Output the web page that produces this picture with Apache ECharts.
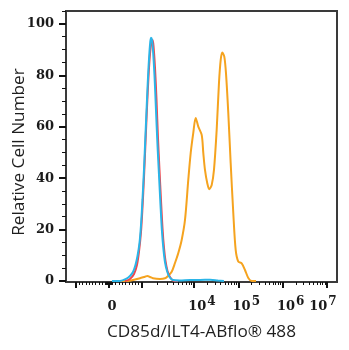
<!DOCTYPE html>
<html>
<head>
<meta charset="utf-8">
<script src="https://cdn.jsdelivr.net/npm/echarts@6/dist/echarts.min.js"></script>
<style>
  html, body { margin: 0; padding: 0; background: #fff; }
  #chart { width: 349px; height: 350px; }
</style>
</head>
<body>
<div id="chart"></div>
<script>
// Flow cytometry overlay histograms on a biexponential display scale.
// x values are display positions: 10^n sits at n for n >= 4.

// unstained control (cyan)
const unstained = [
  [2.149, 0], [2.330, 0], [2.465, 0.78], [2.555, 1.95], [2.623, 3.50],
  [2.679, 6.23], [2.725, 9.73], [2.770, 14.79], [2.804, 21.79], [2.837, 31.52],
  [2.871, 43.19], [2.905, 56.81], [2.939, 70.43], [2.973, 82.88], [3.007, 91.83],
  [3.029, 94.55], [3.052, 93.77], [3.074, 89.88], [3.108, 80.16], [3.142, 66.54],
  [3.176, 52.92], [3.210, 41.25], [3.244, 29.57], [3.278, 19.07], [3.312, 12.06],
  [3.345, 7.39], [3.391, 3.89], [3.447, 1.56], [3.526, 0.39], [3.684, 0.19],
  [3.910, 0.39], [4.135, 0.39], [4.361, 0.47], [4.542, 0.19], [4.677, 0]
];

// isotype control (red)
const isotype = [
  [2.442, 0], [2.555, 0.78], [2.646, 2.72], [2.713, 6.23], [2.758, 11.28],
  [2.804, 19.07], [2.837, 28.40], [2.871, 40.08], [2.905, 53.70], [2.939, 67.33],
  [2.973, 79.38], [3.007, 88.33], [3.041, 93.00], [3.063, 93.77], [3.086, 91.44],
  [3.120, 82.88], [3.154, 70.43], [3.187, 55.65], [3.221, 43.19], [3.255, 31.52],
  [3.289, 20.62], [3.323, 12.84], [3.357, 7.78], [3.402, 3.89], [3.458, 1.56],
  [3.549, 0], [3.639, 0]
];

// CD85d/ILT4 stained sample (orange)
const stained = [
  [2.330, 0], [2.510, 0], [2.668, 0.58], [2.781, 1.05], [2.894, 1.67],
  [2.950, 1.95], [3.007, 1.56], [3.074, 1.05], [3.233, 0.78], [3.345, 1.05],
  [3.413, 1.95], [3.497, 3.62], [3.571, 7.00], [3.646, 10.89], [3.722, 15.95],
  [3.797, 23.74], [3.871, 39.30], [3.926, 49.81], [3.984, 57.59], [4.038, 63.42],
  [4.097, 60.04], [4.174, 56.81], [4.210, 49.81], [4.248, 43.19], [4.300, 38.02],
  [4.345, 35.68], [4.400, 37.35], [4.451, 43.19], [4.512, 58.75], [4.564, 77.04],
  [4.603, 85.99], [4.639, 88.83], [4.684, 87.28], [4.722, 80.82], [4.774, 65.39],
  [4.828, 45.91], [4.887, 26.46], [4.941, 12.06], [5.000, 7.51], [5.077, 6.89],
  [5.151, 4.28], [5.226, 1.17], [5.302, 0], [5.400, 0]
];

const yMajorTicks = [0, 20, 40, 60, 80, 100];
const yMinorTicks = [5, 10, 15, 25, 30, 35, 45, 50, 55, 65, 70, 75, 85, 90, 95, 105];
const xMajorTickValues = [-1e3, 0, 1e3, 1e4, 1e5, 1e6, 1e7];
const xLabelValues = [0, 1e4, 1e5, 1e6, 1e7];

const X_MIN = 1.111, X_MAX = 7.228;

// biexponential display: linear around zero, log-like above 10^3
function displayPos(v) {
  const zero = 2.08, linSpan = 0.746, lowDecade = 1.174;
  if (Math.abs(v) <= 1e3) return zero + (v / 1e3) * linSpan;
  const s = Math.sign(v), d = Math.log10(Math.abs(v));
  const off = d <= 4 ? linSpan + (d - 3) * lowDecade : (4 - zero) + (d - 4);
  return zero + s * off;
}

function minorTickValues() {
  const vals = [];
  [20, 40, 60, 80].forEach(v => vals.push(v, -v));
  for (let m = 1; m <= 9; m++) vals.push(m * 100, -m * 100);
  for (let n = 3; n <= 6; n++) {
    for (let m = 2; m <= 9; m++) vals.push(m * Math.pow(10, n), -m * Math.pow(10, n));
  }
  return vals;
}

const inRange = p => p >= X_MIN && p <= X_MAX;
const xMajorPos = xMajorTickValues.map(displayPos).filter(inRange);
const xMinorPos = minorTickValues().map(displayPos).filter(inRange);

// "10" sits on its tick with the exponent hanging to the right;
// the last label is nudged left so it stays inside the canvas
const labelText = {};
xLabelValues.forEach((v, i) => {
  let txt;
  if (v === 0) txt = '{z|0}';
  else if (i === xLabelValues.length - 1) txt = '{bl|10}{supl|' + Math.round(Math.log10(v)) + '}';
  else txt = '{b|10}{sup|' + Math.round(Math.log10(v)) + '}';
  labelText[displayPos(v).toFixed(4)] = txt;
});

const frameColor = '#3a3a3a';
const tickFont = 'DejaVu Serif';
const nameFont = 'Open Sans';
const tickText = { fontFamily: tickFont, fontWeight: 'bold', fontSize: 13, color: '#1a1a1a', lineHeight: 14, verticalAlign: 'bottom' };

const chart = echarts.init(document.getElementById('chart'), null, { renderer: 'canvas' });

chart.setOption({
  animation: false,
  backgroundColor: '#fff',
  grid: {
    left: 66, right: 12, top: 11, bottom: 68,
    outerBoundsMode: 'none', containLabel: false,
    show: true, borderColor: frameColor, borderWidth: 2, backgroundColor: 'transparent'
  },
  xAxis: [
    {
      type: 'value', min: X_MIN, max: X_MAX, position: 'bottom',
      name: 'CD85d/ILT4-ABflo® 488', nameLocation: 'middle', nameGap: 41.5, nameMoveOverlap: false,
      nameTextStyle: { fontFamily: nameFont, fontSize: 17.2, color: '#1e1e1e' },
      axisLine: { show: true, onZero: false, lineStyle: { color: frameColor, width: 2 } },
      axisTick: { show: true, length: 6, customValues: xMajorPos, lineStyle: { color: '#111', width: 2 } },
      axisLabel: {
        show: true, margin: 17, customValues: xLabelValues.map(displayPos),
        formatter: v => labelText[Number(v).toFixed(4)] || '',
        rich: {
          z: Object.assign({}, tickText, { padding: [5, 0, 0, 6] }),
          b: Object.assign({}, tickText, { padding: [5, 0, 0, 16] }),
          sup: Object.assign({}, tickText, { fontSize: 12, padding: [0, 0, 5, 1] }),
          bl: Object.assign({}, tickText, { padding: [5, 0, 0, 0] }),
          supl: Object.assign({}, tickText, { fontSize: 12, padding: [0, 8, 5, 1] })
        }
      },
      splitLine: { show: false }
    },
    {
      type: 'value', min: X_MIN, max: X_MAX, position: 'bottom',
      axisLine: { show: false, onZero: false },
      axisTick: { show: true, length: 3, customValues: xMinorPos, lineStyle: { color: '#111', width: 1 } },
      axisLabel: { show: false },
      splitLine: { show: false }
    }
  ],
  yAxis: [
    {
      type: 'value', min: -0.4, max: 105, position: 'left',
      name: 'Relative Cell Number', nameLocation: 'middle', nameGap: 38, nameRotate: 90, nameMoveOverlap: false,
      nameTextStyle: { fontFamily: nameFont, fontSize: 17.2, color: '#1e1e1e', padding: [0, 11, 0, 0] },
      axisLine: { show: true, onZero: false, lineStyle: { color: frameColor, width: 2 } },
      axisTick: { show: true, length: 7, customValues: yMajorTicks, lineStyle: { color: '#111', width: 2 } },
      axisLabel: {
        show: true, margin: 12, customValues: yMajorTicks,
        fontFamily: tickFont, fontWeight: 'bold', fontSize: 13, color: '#1a1a1a'
      },
      splitLine: { show: false }
    },
    {
      type: 'value', min: -0.4, max: 105, position: 'left',
      axisLine: { show: false, onZero: false },
      axisTick: { show: true, length: 4, customValues: yMinorTicks, lineStyle: { color: '#111', width: 1 } },
      axisLabel: { show: false },
      splitLine: { show: false }
    }
  ],
  series: [
    {
      name: 'Stained', type: 'line', data: stained, xAxisIndex: 0, yAxisIndex: 0,
      showSymbol: false, smooth: 0.3, lineStyle: { color: '#f5a31f', width: 2 }, z: 2
    },
    {
      name: 'Isotype', type: 'line', data: isotype, xAxisIndex: 0, yAxisIndex: 0,
      showSymbol: false, smooth: 0.3, lineStyle: { color: '#f0464d', width: 2 }, z: 3
    },
    {
      name: 'Unstained', type: 'line', data: unstained, xAxisIndex: 0, yAxisIndex: 0,
      showSymbol: false, smooth: 0.3, lineStyle: { color: '#2bb5e8', width: 2 }, z: 4
    }
  ]
});
</script>
</body>
</html>
